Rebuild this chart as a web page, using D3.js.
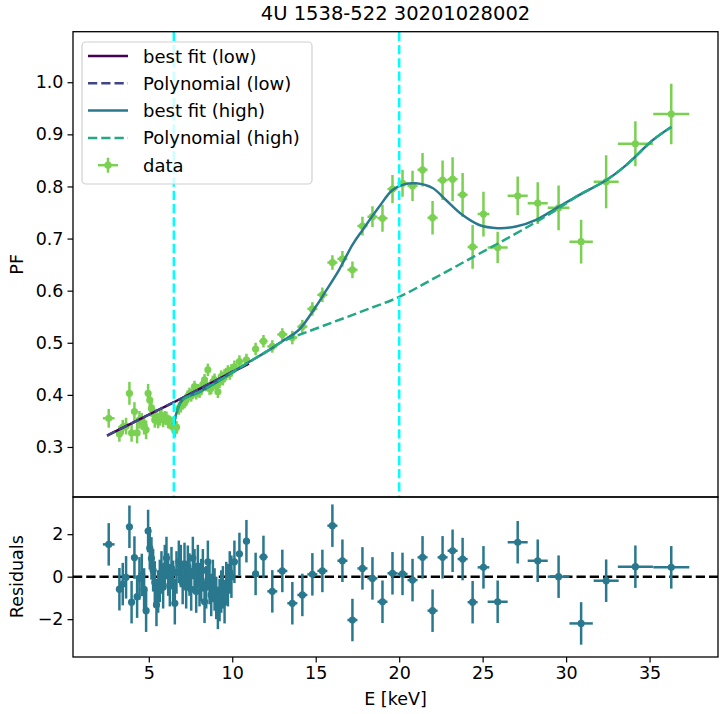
<!DOCTYPE html>
<html>
<head>
<meta charset="utf-8">
<script src="https://cdn.jsdelivr.net/npm/d3@7"></script>
<style>
  html, body { margin: 0; padding: 0; background: #ffffff; }
  svg { display: block; font-family: "DejaVu Sans", sans-serif; }
</style>
</head>
<body>
<svg id="chart" width="721" height="714"></svg>
<script>
// ---- Pulsed fraction measurements (energy bin centre, half width, PF, PF error, residual) ----
const energy = [2.6, 3.24, 3.44, 3.64, 3.84, 3.97, 4.14, 4.30, 4.44, 4.58, 4.72, 4.84, 4.96, 5.06, 5.16, 5.26,
  5.36, 5.46, 5.56, 5.66, 5.76, 5.86, 5.96, 6.06, 6.16, 6.26, 6.36, 6.46, 6.56, 6.66, 6.80, 6.92, 7.03, 7.14,
  7.24, 7.34, 7.44, 7.54, 7.64, 7.74, 7.84, 7.94, 8.04, 8.14, 8.24, 8.34, 8.44, 8.54, 8.64, 8.74, 8.84, 8.94,
  9.04, 9.14, 9.24, 9.34, 9.44, 9.54, 9.64, 9.74, 9.85, 9.95, 10.13, 10.43, 10.85, 11.40, 11.87, 12.40, 13.00,
  13.60, 14.20, 14.80, 15.40, 16.00, 16.60, 17.20, 17.80, 18.40, 19.00, 19.60, 20.20, 20.80, 21.40, 22.00,
  22.60, 23.20, 23.80, 24.40, 25.05, 25.90, 27.10, 28.30, 29.55, 30.90, 32.40, 34.15, 36.30];
const energyErr = [0.35, 0.08, 0.08, 0.08, 0.08, 0.06, 0.06, 0.06, 0.06, 0.06, 0.06, 0.06, 0.05, 0.05, 0.05, 0.05,
  0.05, 0.05, 0.05, 0.05, 0.05, 0.05, 0.05, 0.05, 0.05, 0.05, 0.05, 0.05, 0.05, 0.05, 0.05, 0.05, 0.05, 0.05,
  0.05, 0.05, 0.05, 0.05, 0.05, 0.05, 0.05, 0.05, 0.05, 0.05, 0.05, 0.05, 0.05, 0.05, 0.05, 0.05, 0.05, 0.05,
  0.05, 0.05, 0.05, 0.05, 0.05, 0.05, 0.05, 0.05, 0.05, 0.05, 0.10, 0.15, 0.20, 0.20, 0.25, 0.30, 0.30,
  0.30, 0.30, 0.30, 0.30, 0.30, 0.30, 0.30, 0.30, 0.30, 0.30, 0.30, 0.30, 0.30, 0.30, 0.30,
  0.30, 0.30, 0.30, 0.30, 0.35, 0.60, 0.60, 0.60, 0.65, 0.70, 0.75, 1.05, 1.08];
const pf = [0.355, 0.325, 0.338, 0.340, 0.403, 0.327, 0.368, 0.327, 0.352, 0.349, 0.340, 0.333, 0.403, 0.390, 0.374, 0.365,
  0.352, 0.358, 0.350, 0.355, 0.360, 0.352, 0.356, 0.355, 0.349, 0.347, 0.345, 0.342, 0.331, 0.338, 0.374, 0.378, 0.384, 0.386,
  0.390, 0.397, 0.403, 0.398, 0.405, 0.416, 0.402, 0.410, 0.405, 0.412, 0.420, 0.429, 0.418, 0.448, 0.412, 0.413, 0.425, 0.429,
  0.418, 0.406, 0.425, 0.435, 0.430, 0.438, 0.440, 0.445, 0.441, 0.447, 0.454, 0.464, 0.467, 0.488, 0.503, 0.493, 0.516,
  0.510, 0.531, 0.565, 0.592, 0.654, 0.661, 0.640, 0.724, 0.742, 0.739, 0.795, 0.806, 0.801, 0.832, 0.740,
  0.812, 0.814, 0.784, 0.684, 0.747, 0.683, 0.782, 0.768, 0.759, 0.694, 0.809, 0.882, 0.939];
const pfErr = [0.018, 0.015, 0.014, 0.016, 0.022, 0.017, 0.018, 0.020, 0.017, 0.016, 0.016, 0.018, 0.018, 0.017, 0.016, 0.016,
  0.015, 0.015, 0.014, 0.014, 0.014, 0.014, 0.013, 0.013, 0.013, 0.013, 0.013, 0.013, 0.013, 0.012, 0.012, 0.012, 0.012, 0.012,
  0.012, 0.011, 0.011, 0.011, 0.011, 0.011, 0.011, 0.011, 0.011, 0.011, 0.011, 0.011, 0.011, 0.012, 0.012, 0.012, 0.012, 0.012,
  0.012, 0.012, 0.012, 0.012, 0.012, 0.012, 0.012, 0.012, 0.012, 0.012, 0.012, 0.012, 0.012, 0.012, 0.012, 0.012, 0.012,
  0.013, 0.013, 0.013, 0.014, 0.014, 0.015, 0.016, 0.018, 0.020, 0.026, 0.027, 0.026, 0.029, 0.032, 0.032,
  0.038, 0.042, 0.042, 0.042, 0.043, 0.030, 0.037, 0.040, 0.043, 0.042, 0.051, 0.043, 0.058];
const residual = [1.52, -0.59, -0.35, -0.03, 2.35, -1.20, 0.90, -0.94, -0.08, 0.08, -0.60, -1.60, 2.15, 1.34, 0.86, 0.30,
  -0.27, -1.33, -0.70, -0.20, 0.20, -0.50, 0.50, 0.88, 0.10, -0.40, 0.40, -0.24, -1.25, 0.20, 0.70, 0.50, -0.30, 0.60,
  -0.50, 0.47, 0.10, -0.60, 0.88, 0.30, -0.70, 0.50, -0.40, -0.16, 0.30, -1.18, -0.50, 0.70, -0.30, -0.86, -0.20, -0.60,
  -1.00, -1.47, -1.10, -0.70, -0.50, -1.20, -0.30, -0.40, 0.20, 0.00, 0.70, 1.07, 1.67, 0.13, 0.93, -0.69, 0.27,
  -1.25, -0.86, 0.11, 0.27, 2.40, 0.75, -2.04, 0.39, -0.08, -1.18, 0.16, 0.13, -0.16, 0.91, -1.60,
  0.91, 1.22, 0.83, -1.20, 0.44, -1.18, 1.62, 0.75, 0.00, -2.20, -0.19, 0.47, 0.44];
const residualErr = 1.0;

// ---- Model curves ----
const lowFitE = [2.5, 4.0, 5.5, 7.0, 8.5, 10.0, 11.0];
const lowFitPF = [0.322, 0.346, 0.370, 0.394, 0.419, 0.444, 0.460];
const lowPolyE = [2.5, 4.0, 5.5, 7.0, 8.5, 10.0, 11.0];
const lowPolyPF = [0.322, 0.346, 0.370, 0.394, 0.419, 0.444, 0.460];
const highFitE = [6.5, 7.0, 8.0, 9.0, 10.0, 11.0, 12.0, 12.4, 13.0, 14.0, 15.0, 15.6, 16.4, 17.2, 17.8, 18.8, 19.6,
  20.3, 21.0, 22.0, 22.8, 23.8, 24.8, 25.9, 27.0, 28.2, 29.4, 30.8, 32.4, 33.6, 35.2, 36.3];
const highFitPF = [0.343, 0.390, 0.405, 0.423, 0.443, 0.463, 0.482, 0.490, 0.503, 0.525, 0.569, 0.599, 0.640, 0.688,
  0.716, 0.761, 0.793, 0.804, 0.806, 0.797, 0.774, 0.745, 0.726, 0.720, 0.723, 0.736, 0.758, 0.784, 0.812, 0.841, 0.889, 0.914];
const highPolyE = [6.5, 7.0, 8.0, 9.0, 10.0, 11.0, 12.0, 13.0, 14.0, 16.0, 18.0, 20.0, 22.0, 24.0, 26.0, 28.0,
  29.4, 30.8, 32.4, 33.6, 35.2, 36.3];
const highPolyPF = [0.343, 0.390, 0.405, 0.423, 0.443, 0.463, 0.482, 0.502, 0.515, 0.539, 0.563, 0.588, 0.622, 0.657,
  0.692, 0.728, 0.755, 0.784, 0.812, 0.841, 0.889, 0.914];

// Energies of the two reference markers
const markerEnergies = [6.5, 20.0];

// ---- Axes ticks ----
const xTicks = [5, 10, 15, 20, 25, 30, 35];
const pfTicks = [0.3, 0.4, 0.5, 0.6, 0.7, 0.8, 0.9, 1.0];
const resTicks = [-2, 0, 2];

const titleText = "4U 1538-522 30201028002";

const colors = {
  lowFit: "#440154", lowPoly: "#414487", highFit: "#2a788e", highPoly: "#22a884",
  data: "#7ad151", resid: "#2a788e", marker: "#00ffff"
};

// ---- Layout ----
const L = 73, R = 718, T = 31.7, MID = 497, B = 657;
const svg = d3.select("#chart");

const x = d3.scaleLinear().domain([0.46, 39.1]).range([L, R]);
const y = d3.scaleLinear().domain([0.204, 1.097]).range([MID, T]);
const yr = d3.scaleLinear().domain([-3.78, 3.75]).range([B, MID]);

const pts = energy.map((e, i) => ({ e, ex: energyErr[i], v: pf[i], ve: pfErr[i], r: residual[i] }));

svg.append("defs").selectAll("clipPath")
  .data([["clipMain", T, MID], ["clipRes", MID, B]])
  .join("clipPath").attr("id", d => d[0])
  .append("rect").attr("x", L).attr("y", d => d[1]).attr("width", R - L).attr("height", d => d[2] - d[1]);

const tickFont = 17.5;

// ---- Main panel ----
const main = svg.append("g");
const mainPlot = main.append("g").attr("clip-path", "url(#clipMain)");

// data error bars and markers
const dataG = mainPlot.append("g");
dataG.selectAll("line.v").data(pts).join("line").attr("class", "v")
  .attr("x1", d => x(d.e)).attr("x2", d => x(d.e))
  .attr("y1", d => y(d.v - d.ve)).attr("y2", d => y(d.v + d.ve))
  .attr("stroke", colors.data).attr("stroke-width", 2.5);
dataG.selectAll("line.h").data(pts).join("line").attr("class", "h")
  .attr("x1", d => x(d.e - d.ex)).attr("x2", d => x(d.e + d.ex))
  .attr("y1", d => y(d.v)).attr("y2", d => y(d.v))
  .attr("stroke", colors.data).attr("stroke-width", 2.5);
dataG.selectAll("circle").data(pts).join("circle")
  .attr("cx", d => x(d.e)).attr("cy", d => y(d.v)).attr("r", 3.6)
  .attr("fill", colors.data);

// model curves
const curve = d3.line().x(d => x(d[0])).y(d => y(d[1])).curve(d3.curveCatmullRom.alpha(0.5));
const zip = (a, b) => a.map((v, i) => [v, b[i]]);
const curves = [
  { d: zip(lowFitE, lowFitPF), c: colors.lowFit, dash: null },
  { d: zip(lowPolyE, lowPolyPF), c: colors.lowPoly, dash: "9.25,4" },
  { d: zip(highFitE, highFitPF), c: colors.highFit, dash: null },
  { d: zip(highPolyE, highPolyPF), c: colors.highPoly, dash: "9.25,4" }
];
mainPlot.selectAll("path.model").data(curves).join("path").attr("class", "model")
  .attr("d", d => curve(d.d)).attr("fill", "none")
  .attr("stroke", d => d.c).attr("stroke-width", 2.5)
  .attr("stroke-dasharray", d => d.dash);

// vertical markers
mainPlot.selectAll("line.marker").data(markerEnergies).join("line").attr("class", "marker")
  .attr("x1", d => x(d)).attr("x2", d => x(d)).attr("y1", T).attr("y2", MID)
  .attr("stroke", colors.marker).attr("stroke-width", 2.5).attr("stroke-dasharray", "9.25,4");

// main y axis
const yAxis = d3.axisLeft(y).tickValues(pfTicks).tickFormat(d3.format(".1f")).tickSize(5.5).tickPadding(4);
main.append("g").attr("transform", `translate(${L},0)`).call(yAxis)
  .call(g => g.select(".domain").remove())
  .call(g => g.selectAll("text").attr("font-size", tickFont).attr("font-family", "DejaVu Sans").attr("fill", "#000"))
  .call(g => g.selectAll("line").attr("stroke", "#000").attr("stroke-width", 1.2));
main.append("rect").attr("x", L).attr("y", T).attr("width", R - L).attr("height", MID - T)
  .attr("fill", "none").attr("stroke", "#000").attr("stroke-width", 1.3);

// legend
const legend = svg.append("g");
legend.append("rect").attr("x", 82).attr("y", 42).attr("width", 230).attr("height", 142)
  .attr("rx", 4).attr("fill", "#ffffff").attr("fill-opacity", 0.8)
  .attr("stroke", "#d0d0d0").attr("stroke-width", 1.2);
const legendItems = [
  { label: "best fit (low)", c: colors.lowFit, dash: null },
  { label: "Polynomial (low)", c: colors.lowPoly, dash: "9.25,4" },
  { label: "best fit (high)", c: colors.highFit, dash: null },
  { label: "Polynomial (high)", c: colors.highPoly, dash: "9.25,4" },
  { label: "data", c: colors.data, dash: null, isData: true }
];
const rowY = i => 56 + i * 27.3;
const li = legend.selectAll("g.item").data(legendItems).join("g").attr("class", "item")
  .attr("transform", (d, i) => `translate(0,${rowY(i)})`);
li.filter(d => !d.isData).append("line")
  .attr("x1", 88).attr("x2", 128).attr("y1", 0).attr("y2", 0)
  .attr("stroke", d => d.c).attr("stroke-width", 2.5).attr("stroke-dasharray", d => d.dash);
const dh = li.filter(d => d.isData);
dh.append("line").attr("x1", 98).attr("x2", 118).attr("y1", 0).attr("y2", 0).attr("stroke", colors.data).attr("stroke-width", 2.5);
dh.append("line").attr("x1", 108).attr("x2", 108).attr("y1", -7.5).attr("y2", 7.5).attr("stroke", colors.data).attr("stroke-width", 2.5);
dh.append("circle").attr("cx", 108).attr("cy", 0).attr("r", 3.6).attr("fill", colors.data);
li.append("text").attr("x", 143).attr("y", 6.5).attr("font-size", 18).attr("fill", "#000").text(d => d.label);

// title and main label
svg.append("text").attr("x", (L + R) / 2).attr("y", 20).attr("text-anchor", "middle")
  .attr("font-size", 19.5).attr("fill", "#000").text(titleText);
svg.append("text").attr("transform", `translate(23,${(T + MID) / 2}) rotate(-90)`)
  .attr("text-anchor", "middle").attr("font-size", tickFont).attr("fill", "#000").text("PF");

// ---- Residual panel ----
const res = svg.append("g");
const resPlot = res.append("g").attr("clip-path", "url(#clipRes)");
resPlot.append("line").attr("x1", L).attr("x2", R).attr("y1", yr(0)).attr("y2", yr(0))
  .attr("stroke", "#000").attr("stroke-width", 2.5).attr("stroke-dasharray", "9.25,4");
resPlot.selectAll("line.v").data(pts).join("line").attr("class", "v")
  .attr("x1", d => x(d.e)).attr("x2", d => x(d.e))
  .attr("y1", d => yr(d.r - residualErr)).attr("y2", d => yr(d.r + residualErr))
  .attr("stroke", colors.resid).attr("stroke-width", 2.5);
resPlot.selectAll("line.h").data(pts).join("line").attr("class", "h")
  .attr("x1", d => x(d.e - d.ex)).attr("x2", d => x(d.e + d.ex))
  .attr("y1", d => yr(d.r)).attr("y2", d => yr(d.r))
  .attr("stroke", colors.resid).attr("stroke-width", 2.5);
resPlot.selectAll("circle").data(pts).join("circle")
  .attr("cx", d => x(d.e)).attr("cy", d => yr(d.r)).attr("r", 3.6).attr("fill", colors.resid);

const rAxis = d3.axisLeft(yr).tickValues(resTicks).tickFormat(d => d < 0 ? "\u2212" + Math.abs(d) : d).tickSize(5.5).tickPadding(4);
res.append("g").attr("transform", `translate(${L},0)`).call(rAxis)
  .call(g => g.select(".domain").remove())
  .call(g => g.selectAll("text").attr("font-size", tickFont).attr("font-family", "DejaVu Sans").attr("fill", "#000"))
  .call(g => g.selectAll("line").attr("stroke", "#000").attr("stroke-width", 1.2));
const xAxis = d3.axisBottom(x).tickValues(xTicks).tickSize(5.5).tickPadding(4);
res.append("g").attr("transform", `translate(0,${B})`).call(xAxis)
  .call(g => g.select(".domain").remove())
  .call(g => g.selectAll("text").attr("font-size", tickFont).attr("font-family", "DejaVu Sans").attr("fill", "#000"))
  .call(g => g.selectAll("line").attr("stroke", "#000").attr("stroke-width", 1.2));
res.append("rect").attr("x", L).attr("y", MID).attr("width", R - L).attr("height", B - MID)
  .attr("fill", "none").attr("stroke", "#000").attr("stroke-width", 1.3);

svg.append("text").attr("transform", `translate(23,${yr(0)}) rotate(-90)`)
  .attr("text-anchor", "middle").attr("font-size", tickFont).attr("fill", "#000").text("Residuals");
svg.append("text").attr("x", (L + R) / 2).attr("y", 705).attr("text-anchor", "middle")
  .attr("font-size", tickFont).attr("fill", "#000").text("E [keV]");
</script>
</body>
</html>
